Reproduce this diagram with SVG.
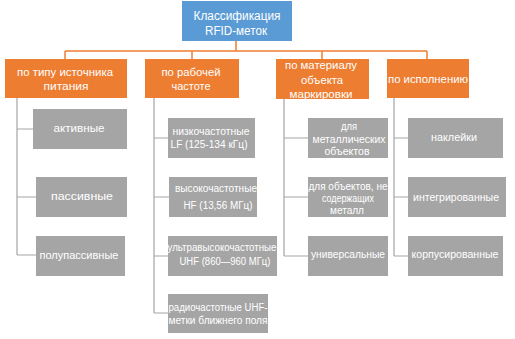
<svg xmlns="http://www.w3.org/2000/svg" width="515" height="339" viewBox="0 0 515 339">
<style>
.root{fill:#5B9BD5}
.cat{fill:#ED7D31}
.leaf{fill:#A5A5A5}
text{font-family:"Liberation Sans","Open Sans",sans-serif;fill:#fff;text-anchor:middle}
.t1{font-size:12.5px}
.t2{font-size:11.5px}
.t3{font-size:10px}
.oc{stroke:#ED7D31;stroke-width:1.5;fill:none}
.gc{stroke:#A5A5A5;stroke-width:1.2;fill:none}
</style>
<rect width="515" height="339" fill="#fff"/>
<g id="connectors">
<path class="oc" d="M236 41V51M65 51H427M65 51V59M192 51V59M322 51V59M427 51V59"/>
<path class="gc" d="M17 98V255M17 129H33M17 197H36M17 255H36"/>
<path class="gc" d="M154 98V313M154 138H168M154 197H169M154 256H168M154 313H168"/>
<path class="gc" d="M284 98V256M284 138H308M284 197H308M284 256H308"/>
<path class="gc" d="M394 98V256M394 138H408M394 197H408M394 256H408"/>
</g>
<g id="root"><rect class="root" x="182" y="1" width="110" height="40"/><text class="t1" x="237" y="20" textLength="87" lengthAdjust="spacingAndGlyphs">Классификация</text><text class="t1" x="236" y="35" textLength="62" lengthAdjust="spacingAndGlyphs">RFID-меток</text></g>
<g id="c1"><rect class="cat" x="5" y="59" width="122" height="39"/><text class="t2" x="65" y="76" textLength="96" lengthAdjust="spacingAndGlyphs">по типу источника</text><text class="t2" x="66" y="90" textLength="45" lengthAdjust="spacingAndGlyphs">питания</text></g>
<g id="c2"><rect class="cat" x="145" y="59" width="94" height="39"/><text class="t2" x="191" y="76" textLength="59" lengthAdjust="spacingAndGlyphs">по рабочей</text><text class="t2" x="191" y="90" textLength="39" lengthAdjust="spacingAndGlyphs">частоте</text></g>
<g id="c3"><rect class="cat" x="276" y="59" width="93" height="40"/><text class="t2" x="321" y="69" textLength="72" lengthAdjust="spacingAndGlyphs">по материалу</text><text class="t2" x="322" y="84" textLength="42" lengthAdjust="spacingAndGlyphs">объекта</text><text class="t2" x="321" y="98" textLength="63" lengthAdjust="spacingAndGlyphs">маркировки</text></g>
<g id="c4"><rect class="cat" x="387" y="59" width="82" height="39"/><text class="t2" x="428" y="83" textLength="80" lengthAdjust="spacingAndGlyphs">по исполнению</text></g>
<g id="l1a"><rect class="leaf" x="33" y="109" width="94" height="40"/><text class="t3" x="79" y="132" textLength="51" lengthAdjust="spacingAndGlyphs">активные</text></g>
<g id="l1b"><rect class="leaf" x="36" y="177" width="91" height="40"/><text class="t3" x="82" y="200" textLength="62" lengthAdjust="spacingAndGlyphs">пассивные</text></g>
<g id="l1c"><rect class="leaf" x="36" y="236" width="89" height="40"/><text class="t3" x="79" y="259" textLength="79" lengthAdjust="spacingAndGlyphs">полупассивные</text></g>
<g id="l2a"><rect class="leaf" x="168" y="118" width="87" height="40"/><text class="t3" x="211" y="135" textLength="77" lengthAdjust="spacingAndGlyphs">низкочастотные</text><text class="t3" x="209" y="148" textLength="77" lengthAdjust="spacingAndGlyphs">LF (125-134 кГц)</text></g>
<g id="l2b"><rect class="leaf" x="169" y="177" width="88" height="40"/><text class="t3" x="216" y="192" textLength="82" lengthAdjust="spacingAndGlyphs">высокочастотные</text><text class="t3" x="218" y="209" textLength="69" lengthAdjust="spacingAndGlyphs">HF (13,56 МГц)</text></g>
<g id="l2c"><rect class="leaf" x="168" y="236" width="109" height="40"/><text class="t3" x="222" y="251" textLength="109" lengthAdjust="spacingAndGlyphs">ультравысокочастотные</text><text class="t3" x="225" y="265" textLength="91" lengthAdjust="spacingAndGlyphs">UHF (860—960 МГц)</text></g>
<g id="l2d"><rect class="leaf" x="168" y="294" width="100" height="39"/><text class="t3" x="218" y="311" textLength="99" lengthAdjust="spacingAndGlyphs">радиочастотные UHF-</text><text class="t3" x="218" y="324" textLength="99" lengthAdjust="spacingAndGlyphs">метки ближнего поля</text></g>
<g id="l3a"><rect class="leaf" x="308" y="118" width="80" height="40"/><text class="t3" x="349" y="130" textLength="16" lengthAdjust="spacingAndGlyphs">для</text><text class="t3" x="349" y="143" textLength="73" lengthAdjust="spacingAndGlyphs">металлических</text><text class="t3" x="347" y="155" textLength="45" lengthAdjust="spacingAndGlyphs">объектов</text></g>
<g id="l3b"><rect class="leaf" x="308" y="177" width="80" height="40"/><text class="t3" x="348" y="190" textLength="79" lengthAdjust="spacingAndGlyphs">для объектов, не</text><text class="t3" x="348" y="202" textLength="52" lengthAdjust="spacingAndGlyphs">содержащих</text><text class="t3" x="347" y="214" textLength="34" lengthAdjust="spacingAndGlyphs">металл</text></g>
<g id="l3c"><rect class="leaf" x="308" y="236" width="80" height="40"/><text class="t3" x="348" y="258" textLength="74" lengthAdjust="spacingAndGlyphs">универсальные</text></g>
<g id="l4a"><rect class="leaf" x="408" y="118" width="95" height="40"/><text class="t3" x="454" y="141" textLength="46" lengthAdjust="spacingAndGlyphs">наклейки</text></g>
<g id="l4b"><rect class="leaf" x="408" y="177" width="98" height="40"/><text class="t3" x="456" y="201" textLength="86" lengthAdjust="spacingAndGlyphs">интегрированные</text></g>
<g id="l4c"><rect class="leaf" x="408" y="236" width="95" height="40"/><text class="t3" x="455" y="258" textLength="87" lengthAdjust="spacingAndGlyphs">корпусированные</text></g>
</svg>
